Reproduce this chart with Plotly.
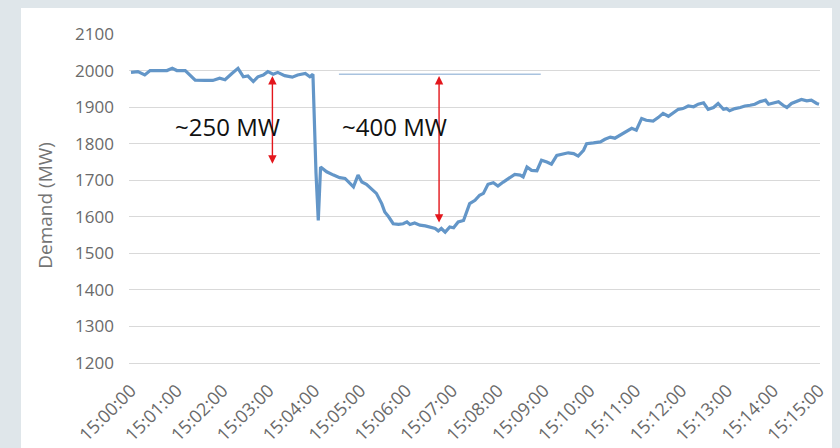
import plotly.graph_objects as go

DAY = "2020-01-01 "

times = ["15:00:00","15:00:09","15:00:18","15:00:25","15:00:35","15:00:47","15:00:54","15:01:00","15:01:11","15:01:24",
         "15:01:37","15:01:47","15:01:56","15:02:03","15:02:12","15:02:20","15:02:27","15:02:33","15:02:40","15:02:46",
         "15:02:53","15:02:59","15:03:06","15:03:12","15:03:21","15:03:31","15:03:38","15:03:48","15:03:54","15:03:58",
         "15:04:02","15:04:05","15:04:08","15:04:16","15:04:25","15:04:33","15:04:40","15:04:46","15:04:51","15:04:57",
         "15:05:02","15:05:08","15:05:15","15:05:21","15:05:28","15:05:32","15:05:37","15:05:43","15:05:50","15:05:56",
         "15:06:01","15:06:05","15:06:11","15:06:18","15:06:25","15:06:31","15:06:38","15:06:42","15:06:46","15:06:51",
         "15:06:57","15:07:02","15:07:08","15:07:15","15:07:23","15:07:30","15:07:36","15:07:41","15:07:47","15:07:54",
         "15:08:00","15:08:07","15:08:16","15:08:22","15:08:29","15:08:33","15:08:38","15:08:44","15:08:51","15:08:57",
         "15:09:04","15:09:10","15:09:17","15:09:23","15:09:32","15:09:39","15:09:45","15:09:52","15:09:56","15:10:05",
         "15:10:14","15:10:20","15:10:27","15:10:33","15:10:40","15:10:48","15:10:55","15:11:01","15:11:08","15:11:14",
         "15:11:23","15:11:30","15:11:36","15:11:43","15:11:49","15:11:56","15:12:02","15:12:09","15:12:16","15:12:22",
         "15:12:29","15:12:35","15:12:42","15:12:48","15:12:55","15:12:59","15:13:03","15:13:10","15:13:17","15:13:23",
         "15:13:30","15:13:36","15:13:43","15:13:50","15:13:54","15:14:00","15:14:07","15:14:13","15:14:18","15:14:24",
         "15:14:31","15:14:37","15:14:44","15:14:50","15:14:57","15:15:00"]

demand = [1995,1997,1988,2000,2000,2000,2006,2000,2000,1974,
          1973,1973,1979,1975,1992,2006,1983,1985,1970,1983,
          1988,1997,1990,1995,1986,1982,1988,1992,1983,1990,
          1720,1590,1736,1723,1714,1707,1705,1691,1682,1714,
          1695,1689,1677,1664,1636,1613,1600,1581,1579,1581,
          1586,1579,1583,1577,1575,1572,1568,1561,1568,1558,
          1572,1570,1586,1590,1636,1645,1659,1664,1689,1693,
          1684,1695,1709,1716,1714,1709,1736,1727,1726,1755,
          1750,1744,1768,1771,1775,1773,1766,1782,1800,1802,
          1805,1812,1818,1815,1823,1832,1842,1837,1869,1864,
          1862,1872,1883,1875,1884,1894,1896,1903,1901,1908,
          1912,1894,1899,1910,1894,1896,1890,1896,1899,1903,
          1905,1908,1915,1919,1908,1912,1915,1905,1899,1910,
          1917,1921,1917,1919,1910,1908]

# pre-event reference level line
ref_times = ["15:04:32", "15:08:56"]
ref_values = [1990, 1990]

# double-headed arrows (time, top, bottom)
arrow_times = ["15:03:05", "15:06:43"]
arrow_tops = [1985, 1985]
arrow_bottoms = [1741, 1580]

# labels
label_texts = ["~250 MW", "~400 MW"]
label_times = ["15:02:06", "15:05:45"]
label_values = [1846, 1846]

tick_times = ["15:%02d:00" % m for m in range(16)]

BG = "#dfe6ea"
TICK = "#6a6a6a"

fig = go.Figure()
fig.add_trace(go.Scatter(
    x=[DAY + t for t in ref_times], y=ref_values, mode="lines",
    line=dict(color="#a9c3df", width=1.5), hoverinfo="skip", showlegend=False))
fig.add_trace(go.Scatter(
    x=[DAY + t for t in times], y=demand, mode="lines",
    line=dict(color="#6396c8", width=3.2), showlegend=False))

for t, top, bot in zip(arrow_times, arrow_tops, arrow_bottoms):
    fig.add_annotation(x=DAY + t, y=top, ax=DAY + t, ay=bot, axref="x", ayref="y",
                       xref="x", yref="y", text="", showarrow=True,
                       arrowhead=2, startarrowhead=2, arrowside="end+start",
                       arrowsize=1.2, startarrowsize=1.2, arrowwidth=1.4,
                       arrowcolor="#e3161c", standoff=0, startstandoff=0)

for txt, t, v in zip(label_texts, label_times, label_values):
    fig.add_annotation(x=DAY + t, y=v, xref="x", yref="y", text=txt, showarrow=False,
                       xanchor="center", yanchor="middle",
                       font=dict(family="Open Sans", size=24, color="#111111"))

fig.add_annotation(x=-0.122, y=0.48, xref="paper", yref="paper", text="Demand (MW)",
                   textangle=-90, showarrow=False, xanchor="center", yanchor="middle",
                   font=dict(family="Open Sans", size=19, color="#747474"))

# white panel on gray background
fig.add_shape(type="rect", xref="paper", yref="paper", x0=-0.1563, x1=1.05, y0=-0.3, y1=1.1,
              fillcolor="white", line=dict(width=0), layer="below")

fig.update_layout(
    width=832, height=440,
    margin=dict(l=121, r=20, t=26, b=85),
    paper_bgcolor=BG, plot_bgcolor="rgba(0,0,0,0)",
    font=dict(family="Open Sans", color=TICK),
    xaxis=dict(range=[DAY + "14:59:57.4", DAY + "15:15:01.3"],
               tickvals=[DAY + t for t in tick_times], ticktext=tick_times,
               tickangle=-45, showgrid=False, showline=True, linecolor="#d9d9d9",
               linewidth=1, ticks="", ticklabelstandoff=9, automargin=False,
               tickfont=dict(size=18, color=TICK),
               zeroline=False),
    yaxis=dict(range=[1200, 2100], dtick=100, tick0=1200, showgrid=True,
               gridcolor="#d9d9d9", gridwidth=1, zeroline=False, ticks="",
               automargin=False,
               ticklabelstandoff=14, tickfont=dict(size=17, color=TICK)),
)

fig.write_html("out.html", post_script="document.body.style.background='%s';" % BG)
